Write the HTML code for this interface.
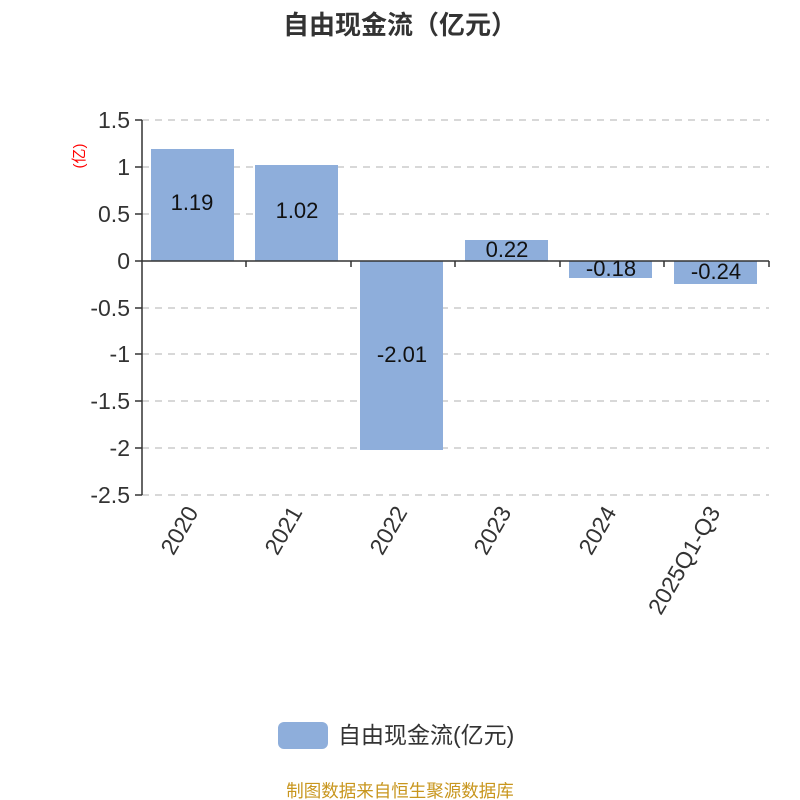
<!DOCTYPE html>
<html><head><meta charset="utf-8"><style>
html,body{margin:0;padding:0;background:#fff;}
svg{display:block;font-family:"Liberation Sans","Noto Sans CJK SC",sans-serif;}
</style></head><body>
<svg width="800" height="800" viewBox="0 0 800 800">
<text x="400" y="34" text-anchor="middle" font-size="26" font-weight="bold" fill="#333">自由现金流（亿元）</text>
<g stroke="#ccc" stroke-width="1.5" stroke-dasharray="7,6">
<line x1="142" y1="120" x2="769" y2="120"/>
<line x1="142" y1="167" x2="769" y2="167"/>
<line x1="142" y1="214" x2="769" y2="214"/>
<line x1="142" y1="308" x2="769" y2="308"/>
<line x1="142" y1="354" x2="769" y2="354"/>
<line x1="142" y1="401" x2="769" y2="401"/>
<line x1="142" y1="448" x2="769" y2="448"/>
<line x1="142" y1="495" x2="769" y2="495"/>
</g>
<g fill="#8eaedb">
<rect x="151" y="149" width="83" height="112"/>
<rect x="255" y="165" width="83" height="96"/>
<rect x="360" y="261" width="83" height="189"/>
<rect x="465" y="240" width="83" height="21"/>
<rect x="569" y="261" width="83" height="17"/>
<rect x="674" y="261" width="83" height="23"/>
</g>
<g stroke="#333" stroke-width="1.5" fill="none">
<line x1="142" y1="120" x2="142" y2="495"/>
<line x1="142" y1="261" x2="769" y2="261"/>
<line x1="135" y1="120" x2="142" y2="120"/>
<line x1="135" y1="167" x2="142" y2="167"/>
<line x1="135" y1="214" x2="142" y2="214"/>
<line x1="135" y1="261" x2="142" y2="261"/>
<line x1="135" y1="308" x2="142" y2="308"/>
<line x1="135" y1="354" x2="142" y2="354"/>
<line x1="135" y1="401" x2="142" y2="401"/>
<line x1="135" y1="448" x2="142" y2="448"/>
<line x1="135" y1="495" x2="142" y2="495"/>
<line x1="246" y1="261" x2="246" y2="267"/>
<line x1="351" y1="261" x2="351" y2="267"/>
<line x1="455" y1="261" x2="455" y2="267"/>
<line x1="560" y1="261" x2="560" y2="267"/>
<line x1="664" y1="261" x2="664" y2="267"/>
<line x1="769" y1="261" x2="769" y2="267"/>
</g>
<g font-size="23" fill="#333" text-anchor="end">
<text x="130" y="128">1.5</text>
<text x="130" y="175">1</text>
<text x="130" y="222">0.5</text>
<text x="130" y="269">0</text>
<text x="130" y="316">-0.5</text>
<text x="130" y="362">-1</text>
<text x="130" y="409">-1.5</text>
<text x="130" y="456">-2</text>
<text x="130" y="503">-2.5</text>
</g>
<text transform="translate(84,156) rotate(-90)" text-anchor="middle" font-size="15" fill="#f00">(亿)</text>
<g font-size="22" fill="#111" text-anchor="middle">
<text x="192" y="210">1.19</text>
<text x="297" y="218">1.02</text>
<text x="402" y="362">-2.01</text>
<text x="507" y="257">0.22</text>
<text x="611" y="276">-0.18</text>
<text x="716" y="279">-0.24</text>
</g>
<g font-size="23" fill="#333" text-anchor="end">
<text transform="translate(199,512) rotate(-60)">2020</text>
<text transform="translate(303,512) rotate(-60)">2021</text>
<text transform="translate(408,512) rotate(-60)">2022</text>
<text transform="translate(512,512) rotate(-60)">2023</text>
<text transform="translate(617,512) rotate(-60)">2024</text>
<text transform="translate(721,512) rotate(-60)">2025Q1-Q3</text>
</g>
<rect x="278" y="722" width="50" height="27" rx="6" fill="#8eaedb"/>
<text x="338" y="743" font-size="23" fill="#333">自由现金流(亿元)</text>
<text x="400" y="797" text-anchor="middle" font-size="17.5" fill="#c8961e">制图数据来自恒生聚源数据库</text>
</svg>
</body></html>
